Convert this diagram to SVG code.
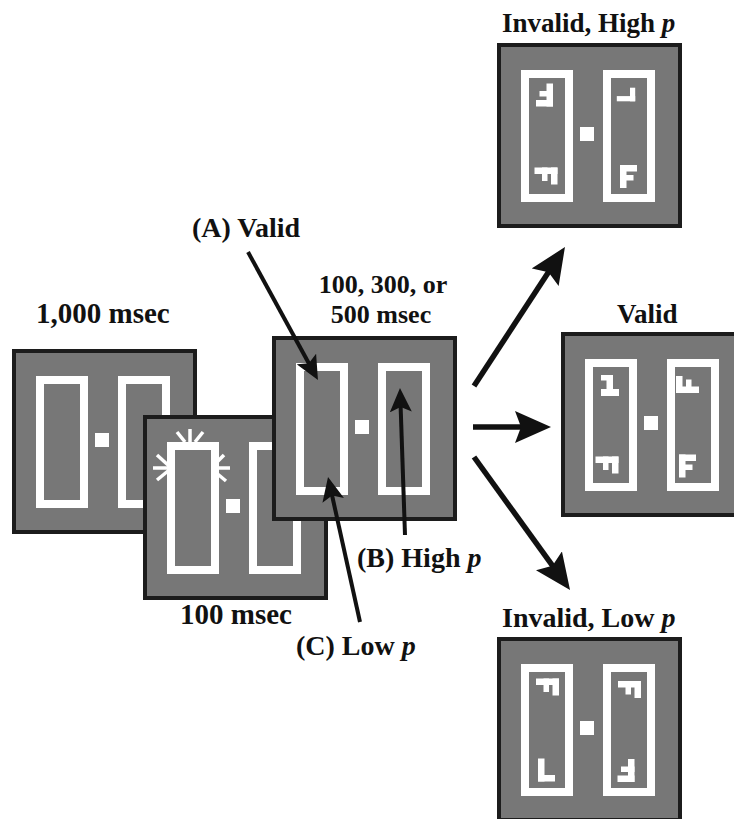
<svg xmlns="http://www.w3.org/2000/svg" xmlns:xlink="http://www.w3.org/1999/xlink" width="734" height="819" viewBox="0 0 734 819">
<style>
text{font-family:"Liberation Serif","Times New Roman",serif;font-weight:bold;fill:#111;}
.it{font-style:italic;}
.cw{fill:none;stroke:#111;stroke-width:4;}
.cwb{fill:none;stroke:#111;stroke-width:5.5;}
.ray{stroke:#fff;stroke-width:3.5;stroke-linecap:butt;}
.stim{fill:#fff;}
</style>
<defs>
<g id="disp">
<rect x="2" y="2" width="181" height="181" fill="#777" stroke="#1c1c1c" stroke-width="4"/>
<rect x="28" y="31" width="44" height="124" fill="none" stroke="#fff" stroke-width="8"/>
<rect x="110" y="31" width="44" height="124" fill="none" stroke="#fff" stroke-width="8"/>
<rect x="83" y="84" width="14" height="14" fill="#fff"/>
</g>
<g id="F"><rect x="-8.5" y="-11.5" width="6.5" height="23"/><rect x="-8.5" y="-11.5" width="17" height="6.5"/><rect x="-8.5" y="-1.5" width="13.5" height="5.5"/></g>
<g id="L"><rect x="-8.5" y="-11.5" width="6.5" height="23"/><rect x="-8.5" y="5" width="17" height="6.5"/></g>
<marker id="hs" viewBox="0 0 24 22" markerWidth="24" markerHeight="22" refX="12" refY="11" orient="auto" markerUnits="userSpaceOnUse"><path d="M0,0 L24,11 L0,22 L5,11 z" fill="#111"/></marker>
<marker id="hb" viewBox="0 0 36 32" markerWidth="36" markerHeight="32" refX="18" refY="16" orient="auto" markerUnits="userSpaceOnUse"><path d="M0,0 L36,16 L0,32 L6,16 z" fill="#111"/></marker>
</defs>
<rect width="734" height="819" fill="#fff"/>

<g id="frame1" transform="translate(12,349)"><use xlink:href="#disp" href="#disp"/></g>
<g id="frame2">
<use xlink:href="#disp" href="#disp" transform="translate(143,415)"/>
<g class="ray">
<line x1="190" y1="442" x2="190" y2="429"/>
<line x1="185" y1="442" x2="177" y2="432"/>
<line x1="195" y1="442" x2="203" y2="432"/>
<line x1="168" y1="465" x2="157" y2="455"/>
<line x1="168" y1="468" x2="153" y2="468"/>
<line x1="168" y1="471" x2="157" y2="480"/>
<line x1="214" y1="465" x2="224" y2="455"/>
<line x1="214" y1="468" x2="230" y2="468"/>
<line x1="214" y1="471" x2="226" y2="481"/>
</g>
</g>
<g id="frame3" transform="translate(272,336)"><use xlink:href="#disp" href="#disp"/></g>

<g id="invalidHigh">
<use xlink:href="#disp" href="#disp" transform="translate(497,43)"/>
<g class="stim">
<use xlink:href="#F" href="#F" transform="translate(544.5,95) rotate(180)"/>
<use xlink:href="#F" href="#F" transform="translate(546,176) rotate(90)"/>
<use xlink:href="#L" href="#L" transform="translate(626,94.5) rotate(-90) scale(0.8)"/>
<use xlink:href="#F" href="#F" transform="translate(628.5,176.5)"/>
</g>
</g>
<g id="validDisp">
<use xlink:href="#disp" href="#disp" transform="translate(561,332)"/>
<g class="stim">
<rect x="606.5" y="375" width="6.5" height="20"/><rect x="601" y="389" width="18" height="7"/><rect x="601" y="375" width="12" height="5.5"/>
<use xlink:href="#F" href="#F" transform="translate(607,465) rotate(90)"/>
<use xlink:href="#F" href="#F" transform="translate(687.5,384.5) rotate(-90)"/>
<use xlink:href="#F" href="#F" transform="translate(687.5,466)"/>
</g>
</g>
<g id="invalidLow">
<use xlink:href="#disp" href="#disp" transform="translate(497,637)"/>
<g class="stim">
<use xlink:href="#F" href="#F" transform="translate(547.5,687) rotate(90)"/>
<use xlink:href="#L" href="#L" transform="translate(546.5,770)"/>
<use xlink:href="#F" href="#F" transform="translate(629.5,689.5) rotate(90)"/>
<use xlink:href="#F" href="#F" transform="translate(626,770.5) rotate(180)"/>
</g>
</g>

<g id="connectors">
<line class="cw" x1="248" y1="252" x2="312.2" y2="369.5" marker-end="url(#hs)"/>
<line class="cw" x1="405" y1="535" x2="400.4" y2="400" marker-end="url(#hs)"/>
<line class="cw" x1="360" y1="622" x2="330.6" y2="488.7" marker-end="url(#hs)"/>
<line class="cwb" x1="474" y1="386" x2="555.1" y2="262.1" marker-end="url(#hb)"/>
<line class="cwb" x1="473" y1="427" x2="533" y2="427" marker-end="url(#hb)"/>
<line class="cwb" x1="474" y1="457" x2="559.5" y2="575.4" marker-end="url(#hb)"/>
</g>

<g id="labels">
<text x="36" y="323" font-size="29">1,000 msec</text>
<text x="192" y="237" font-size="28">(A) Valid</text>
<text x="383" y="293" font-size="26" text-anchor="middle">100, 300, or</text>
<text x="381" y="323" font-size="26" text-anchor="middle">500 msec</text>
<text x="180" y="624" font-size="29">100 msec</text>
<text x="357" y="567" font-size="28">(B) High <tspan class="it">p</tspan></text>
<text x="296" y="655" font-size="28">(C) Low <tspan class="it">p</tspan></text>
<text x="502" y="32" font-size="27">Invalid, High <tspan class="it">p</tspan></text>
<text x="617" y="323" font-size="27">Valid</text>
<text x="502" y="627" font-size="28">Invalid, Low <tspan class="it">p</tspan></text>
</g>
</svg>
